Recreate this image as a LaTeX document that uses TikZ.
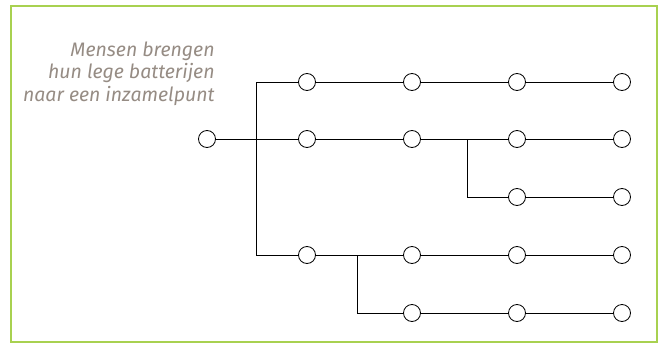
\documentclass[tikz,border=0pt]{standalone}
\usepackage{fontspec}
\setmainfont{Fira Sans}
\usepackage{tikz}
\usetikzlibrary{positioning}
\definecolor{framegreen}{RGB}{168,209,80}
\definecolor{notegray}{RGB}{150,140,132}

\begin{document}
\begin{tikzpicture}[x=1pt, y=-1pt, line width=0.8pt,
    stop/.style={circle, draw, fill=white, minimum size=17pt, inner sep=0pt},
    note/.style={align=right, text=notegray, font=\fontsize{19.5}{22.8}\selectfont\itshape, inner sep=0pt}]

\useasboundingbox (0,0) rectangle (662,351);
\draw[framegreen, line width=2pt] (11,6) rectangle (657,342);

\node[note, anchor=north east] (txt) at (215,41) {Mensen brengen\\hun lege batterijen\\naar een inzamelpunt};

% start
\node[stop] (s) at (207,139) {};

% rows
\node[stop] (a1) at (307,82) {};
\node[stop] (a2) at (412,82) {};
\node[stop] (a3) at (517,82) {};
\node[stop] (a4) at (622,82) {};

\node[stop] (b1) at (307,139) {};
\node[stop] (b2) at (412,139) {};
\node[stop] (b3) at (517,139) {};
\node[stop] (b4) at (622,139) {};

\node[stop] (c3) at (517,197) {};
\node[stop] (c4) at (622,197) {};

\node[stop] (d1) at (307,255) {};
\node[stop] (d2) at (412,255) {};
\node[stop] (d3) at (517,255) {};
\node[stop] (d4) at (622,255) {};

\node[stop] (e2) at (412,313) {};
\node[stop] (e3) at (517,313) {};
\node[stop] (e4) at (622,313) {};

\coordinate (bot) at (256,255);
\coordinate (k) at (467,139);
\coordinate (m) at (357,255);

\draw (s) -- (b1) -- (b2) -- (b3) -- (b4);
\draw (a1) -| (bot) -- (d1);
\draw (a1) -- (a2) -- (a3) -- (a4);
\draw (d1) -- (d2) -- (d3) -- (d4);
\draw (k) |- (c3) -- (c4);
\draw (m) |- (e2) -- (e3) -- (e4);
\end{tikzpicture}
\end{document}
